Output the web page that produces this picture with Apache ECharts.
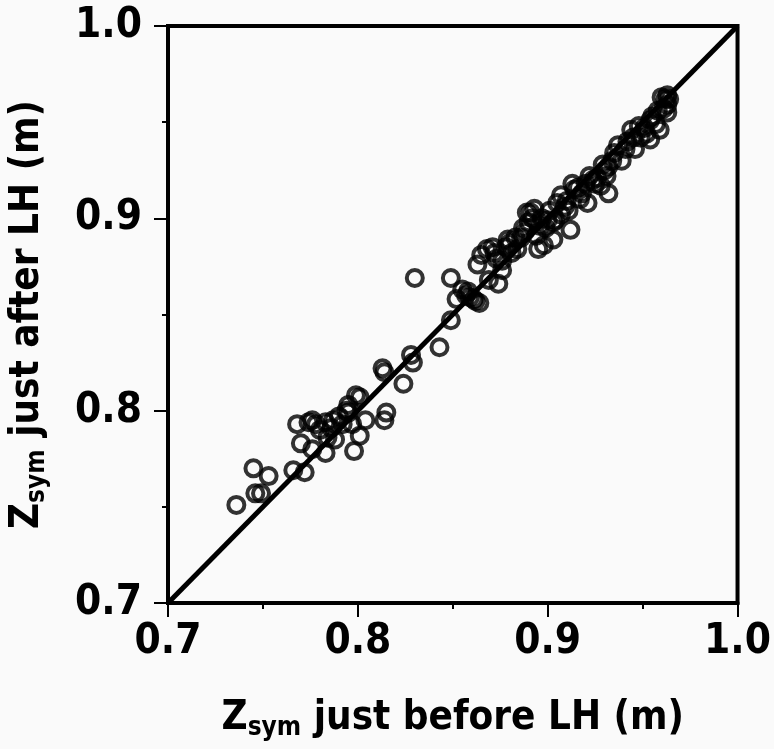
<!DOCTYPE html>
<html>
<head>
<meta charset="utf-8">
<script src="https://cdn.jsdelivr.net/npm/echarts@6/dist/echarts.min.js"></script>
<style>
  html, body { margin: 0; padding: 0; background: #fafafa; }
  #chart { width: 774px; height: 749px; }
</style>
</head>
<body>
<div id="chart"></div>
<script>
// Zsym before / after LH (m)
const zBefore = [
  0.736, 0.745, 0.753, 0.746, 0.749, 0.766, 0.772, 0.768, 0.770, 0.774,
  0.778, 0.783, 0.783, 0.788, 0.794, 0.799, 0.801, 0.804, 0.801, 0.798,
  0.815, 0.814, 0.813, 0.814, 0.824, 0.829, 0.828, 0.843, 0.830, 0.849,
  0.849, 0.859, 0.861, 0.864, 0.865, 0.871, 0.872, 0.876, 0.874, 0.869,
  0.876, 0.878, 0.881, 0.883, 0.891, 0.890, 0.892, 0.895, 0.898, 0.894,
  0.903, 0.905, 0.912, 0.914, 0.921, 0.924, 0.916, 0.911, 0.926, 0.932,
  0.932, 0.935, 0.941, 0.945, 0.949, 0.954, 0.954, 0.959, 0.963, 0.963,
  0.962, 0.899, 0.907, 0.886, 0.879, 0.900, 0.903, 0.917, 0.928, 0.939,
  0.946, 0.951, 0.958, 0.963, 0.855, 0.857, 0.852, 0.795, 0.787, 0.792,
  0.780, 0.776, 0.784, 0.797, 0.863, 0.888, 0.897, 0.909, 0.920, 0.930,
  0.868, 0.873, 0.880, 0.884, 0.887, 0.889, 0.893, 0.896, 0.901, 0.904,
  0.907, 0.910, 0.913, 0.918, 0.922, 0.925, 0.929, 0.931, 0.934, 0.937,
  0.942, 0.944, 0.948, 0.952, 0.955, 0.957, 0.961, 0.964, 0.960, 0.776,
  0.790, 0.786, 0.795, 0.858, 0.862
];
const zAfter = [
  0.751, 0.770, 0.766, 0.757, 0.757, 0.769, 0.768, 0.793, 0.783, 0.794,
  0.793, 0.794, 0.778, 0.785, 0.800, 0.808, 0.807, 0.795, 0.787, 0.779,
  0.799, 0.795, 0.822, 0.820, 0.814, 0.825, 0.829, 0.833, 0.869, 0.869,
  0.847, 0.859, 0.858, 0.856, 0.881, 0.885, 0.882, 0.878, 0.866, 0.868,
  0.873, 0.885, 0.882, 0.890, 0.903, 0.898, 0.900, 0.884, 0.886, 0.891,
  0.898, 0.908, 0.894, 0.915, 0.908, 0.920, 0.916, 0.904, 0.921, 0.913,
  0.927, 0.934, 0.936, 0.942, 0.942, 0.951, 0.941, 0.946, 0.955, 0.964,
  0.962, 0.895, 0.902, 0.890, 0.889, 0.899, 0.889, 0.910, 0.917, 0.930,
  0.936, 0.947, 0.956, 0.959, 0.863, 0.860, 0.858, 0.803, 0.795, 0.793,
  0.790, 0.780, 0.786, 0.793, 0.876, 0.893, 0.900, 0.906, 0.918, 0.925,
  0.884, 0.879, 0.887, 0.884, 0.895, 0.903, 0.905, 0.896, 0.904, 0.899,
  0.912, 0.909, 0.918, 0.913, 0.922, 0.918, 0.928, 0.922, 0.930, 0.938,
  0.940, 0.946, 0.948, 0.944, 0.953, 0.949, 0.957, 0.962, 0.963, 0.795,
  0.797, 0.791, 0.799, 0.862, 0.857
];
const axisMin = 0.7;
const axisMax = 1.0;
const tickStep = 0.1;

const font = "'DejaVu Sans', sans-serif";
const weight = 'bold condensed';
const ink = '#000';

const points = zBefore.map((x, i) => [x, zAfter[i]]);

const chart = echarts.init(document.getElementById('chart'), null, { renderer: 'canvas' });

const axisCommon = {
  type: 'value',
  min: axisMin,
  max: axisMax,
  interval: tickStep,
  splitLine: { show: false },
  axisLine: { show: true, lineStyle: { color: ink, width: 4 } },
  axisTick: { show: true, inside: false, length: 14, lineStyle: { color: ink, width: 2 } },
  minorTick: { show: true, splitNumber: 2, length: 6, lineStyle: { color: ink, width: 2 } },
  axisLabel: {
    color: ink,
    fontFamily: font,
    fontWeight: weight,
    fontSize: 42,
    formatter: v => v.toFixed(1)
  },
  nameLocation: 'middle',
  nameTextStyle: {
    color: ink,
    fontFamily: font,
    fontWeight: weight,
    rich: {
      z: { fontFamily: font, fontWeight: weight, fontSize: 40, color: ink },
      s: { fontFamily: font, fontWeight: weight, fontSize: 26, color: ink, padding: [18, 0, 0, 0] },
      t: { fontFamily: font, fontWeight: weight, fontSize: 40, color: ink }
    }
  }
};

chart.setOption({
  backgroundColor: '#fafafa',
  animation: false,
  grid: {
    left: 164, right: 36, top: 26, bottom: 146,
    show: true, borderColor: ink, borderWidth: 4, backgroundColor: 'transparent'
  },
  xAxis: {
    ...axisCommon,
    axisLabel: { ...axisCommon.axisLabel, margin: 18 },
    name: '{z|Z}{s|sym}{t| just before LH (m)}',
    nameGap: 94
  },
  yAxis: {
    ...axisCommon,
    axisLabel: { ...axisCommon.axisLabel, margin: 26 },
    name: '{z|Z}{s|sym}{t| just after LH (m)}',
    nameRotate: 90,
    nameGap: 118
  },
  series: [
    {
      type: 'line',
      data: [[axisMin, axisMin], [axisMax, axisMax]],
      symbol: 'none',
      lineStyle: { color: ink, width: 5 },
      z: 1
    },
    {
      type: 'scatter',
      data: points,
      symbol: 'circle',
      symbolSize: 16,
      itemStyle: { color: 'transparent', borderColor: ink, borderWidth: 4 },
      z: 2
    }
  ]
});
</script>
</body>
</html>
